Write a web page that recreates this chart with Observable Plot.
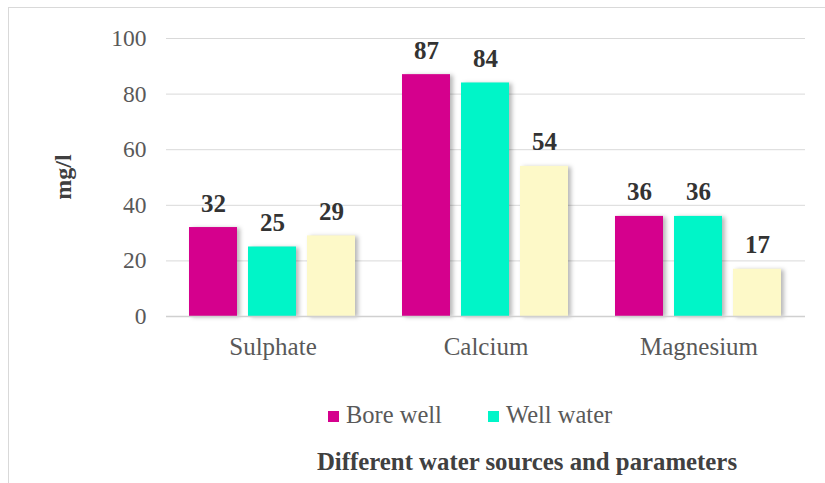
<!DOCTYPE html>
<html>
<head>
<meta charset="utf-8">
<script src="https://cdn.jsdelivr.net/npm/d3@7"></script>
<script src="https://cdn.jsdelivr.net/npm/@observablehq/plot@0.6"></script>
<style>
  html, body { margin: 0; padding: 0; background: #fff; }
  #wrap { position: relative; width: 825px; height: 483px; overflow: hidden; background: #fff;
          font-family: "Liberation Serif", "Times New Roman", serif; }
  #frame { position: absolute; left: 8px; top: 7px; width: 840px; height: 500px; border: 1px solid #d9d9d9; box-sizing: border-box; }
  #chart { position: absolute; left: 0; top: 0; }
  #ylab { position: absolute; left: 63px; top: 177px; transform: translate(-50%, -50%) rotate(-90deg);
          font-weight: bold; font-size: 24px; color: #404040; white-space: nowrap; }
  .leg { position: absolute; top: 401px; font-size: 24.5px; color: #595959; white-space: nowrap; line-height: 28px; }
  .sw { display: inline-block; width: 11px; height: 11px; margin-right: 7px; vertical-align: 1px; }
  #title { position: absolute; top: 448px; left: 527px; transform: translateX(-50%); font-weight: bold;
           font-size: 24.8px; color: #404040; white-space: nowrap; line-height: 28px; }
  svg g[aria-label="bar"] rect { filter: drop-shadow(3px 1px 2px rgba(0,0,0,0.28)); }
</style>
</head>
<body>
<div id="wrap">
  <div id="frame"></div>
  <div id="chart"></div>
  <div id="ylab">mg/l</div>
  <div id="legend"></div>
  <div id="title">Different water sources and parameters</div>
</div>
<script>
const categories = ["Sulphate", "Calcium", "Magnesium"];
const seriesNames = ["Bore well", "Well water", "Other source"];
const boreWell = [32, 87, 36];
const wellWater = [25, 84, 36];
const otherSource = [29, 54, 17];
const yTicks = [0, 20, 40, 60, 80, 100];
const legendSeries = ["Bore well", "Well water"];
const colors = ["#d5008d", "#00f5c8", "#fdf9c8"];

const valuesBySeries = [boreWell, wellWater, otherSource];
const data = [];
categories.forEach((c, i) => {
  seriesNames.forEach((s, j) => data.push({category: c, series: s, value: valuesBySeries[j][i]}));
});

const chart = Plot.plot({
  width: 825,
  height: 370,
  marginTop: 38,
  marginBottom: 54,
  marginLeft: 165,
  marginRight: 19,
  style: {fontFamily: '"Liberation Serif", "Times New Roman", serif', fontSize: "24px", background: "transparent", overflow: "visible"},
  fx: {domain: categories, padding: 0, label: null},
  x: {domain: seriesNames, paddingInner: 0.183, paddingOuter: 0.372, axis: null},
  y: {domain: [0, 100], label: null},
  color: {domain: seriesNames, range: colors},
  marks: [
    Plot.gridY(yTicks, {stroke: "#d9d9d9", strokeOpacity: 1, strokeWidth: 1}),
    Plot.axisY(yTicks, {tickSize: 0, tickPadding: 20, fill: "#595959", fontSize: 23.5, label: null}),
    Plot.axisFx({anchor: "bottom", tickSize: 0, tickPadding: 21, fill: "#595959", fontSize: 25, label: null}),
    Plot.barY(data, {fx: "category", x: "series", y: "value", fill: "series"}),
    Plot.ruleY([0], {stroke: "#d0d0d0", strokeWidth: 1.5}),
    Plot.text(data, {fx: "category", x: "series", y: "value", text: d => String(d.value),
      dy: -16, lineAnchor: "bottom", fontWeight: "bold", fontSize: 25, fill: "#333"})
  ]
});
document.getElementById("chart").appendChild(chart);

const legend = document.getElementById("legend");
const legendX = [328, 488];
legendSeries.forEach((s, i) => {
  const el = document.createElement("div");
  el.className = "leg";
  el.style.left = legendX[i] + "px";
  const sw = document.createElement("span");
  sw.className = "sw";
  sw.style.background = colors[seriesNames.indexOf(s)];
  el.appendChild(sw);
  el.appendChild(document.createTextNode(s));
  legend.appendChild(el);
});
</script>
</body>
</html>
